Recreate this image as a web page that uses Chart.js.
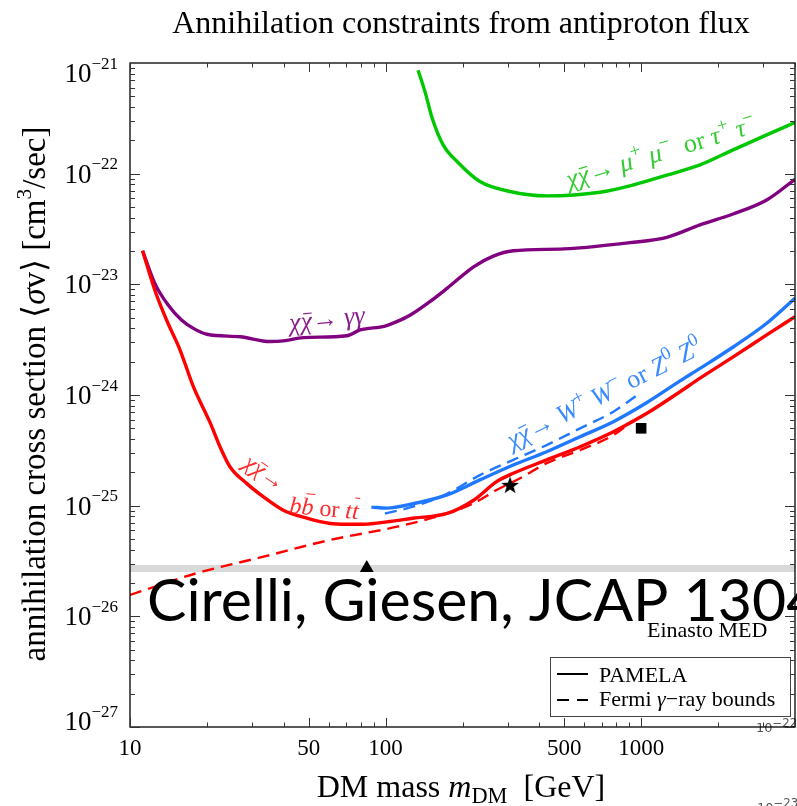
<!DOCTYPE html>
<html>
<head>
<meta charset="utf-8">
<title>Annihilation constraints from antiproton flux</title>
<script src="https://cdn.jsdelivr.net/npm/chart.js@4.4.1/dist/chart.umd.min.js"></script>
<style>
  html, body { margin: 0; padding: 0; background: #fff; }
  canvas { display: block; }
</style>
</head>
<body>
<canvas id="bounds" width="797" height="806"></canvas>
<script>
// DM mass in GeV, <sigma v> in cm^3/s

// chi chibar -> b bbar / t tbar, PAMELA
const massHad = [11.2, 12.5, 13.9, 15.7, 17.7, 20.6, 22.5, 24.6, 28.6, 33.3, 39.8, 49.2, 60.7, 70.5, 81.9, 104, 128, 174, 221, 272, 316, 427, 577, 779, 1050, 1420, 1700, 2300, 3100, 4000];
const sigmaHad = [2.01e-23, 8.9e-24, 4.76e-24, 2.55e-24, 1.19e-24, 5.6e-25, 3.41e-25, 2.25e-25, 1.59e-25, 1.2e-25, 9.1e-26, 7.7e-26, 6.9e-26, 6.8e-26, 6.8e-26, 7.2e-26, 7.7e-26, 8.5e-26, 1.12e-25, 1.65e-25, 1.96e-25, 2.59e-25, 3.41e-25, 4.66e-25, 6.8e-25, 1.07e-24, 1.42e-24, 2.22e-24, 3.49e-24, 5.1e-24];
// same channel, Fermi gamma-ray bound
const massHadFermi = [10, 18.2, 33.3, 60.7, 111, 174, 221, 272, 336, 427, 577, 779, 930];
const sigmaHadFermi = [1.56e-26, 2.45e-26, 3.46e-26, 4.9e-26, 6.46e-26, 8.5e-26, 1.05e-25, 1.385e-25, 1.77e-25, 2.42e-25, 3.18e-25, 4.35e-25, 5.9e-25];

// chi chibar -> W+W- / Z0Z0
const massW = [88, 101, 128, 174, 234, 316, 427, 577, 779, 1050, 1420, 1700, 2300, 3100, 4000];
const sigmaW = [9.7e-26, 9.5e-26, 1.04e-25, 1.25e-25, 1.71e-25, 2.33e-25, 3.07e-25, 4.2e-25, 5.74e-25, 8.5e-25, 1.34e-24, 1.74e-24, 2.73e-24, 4.45e-24, 7.5e-24];
const massWFermi = [99.5, 128, 174, 234, 316, 427, 577, 779, 990];
const sigmaWFermi = [8.5e-26, 9.8e-26, 1.28e-25, 1.89e-25, 2.59e-25, 3.53e-25, 5.0e-25, 7.07e-25, 1.04e-24];

// chi chibar -> gamma gamma
const massGam = [11.2, 12.5, 14.1, 15.9, 17.7, 20, 27, 35.3, 39.8, 47.7, 70.5, 79.5, 99.5, 110.6, 125, 149, 174, 221, 264, 316, 497, 906, 1260, 1700, 2290, 3100, 4000];
const sigmaGam = [2.01e-23, 1.02e-23, 6.5e-24, 4.76e-24, 4.0e-24, 3.54e-24, 3.36e-24, 3.04e-24, 3.08e-24, 3.3e-24, 3.43e-24, 3.87e-24, 4.2e-24, 4.6e-24, 5.28e-24, 6.97e-24, 9.2e-24, 1.44e-23, 1.8e-23, 2.01e-23, 2.09e-23, 2.38e-23, 2.66e-23, 3.44e-23, 4.32e-23, 5.78e-23, 8.9e-23];

// chi chibar -> mu+mu- / tau+tau-
const massLep = [134, 143, 152, 168, 193, 234, 307, 427, 691, 930, 1260, 1700, 2290, 3100, 4000];
const sigmaLep = [8.6e-22, 5.4e-22, 3.2e-22, 1.82e-22, 1.25e-22, 8.5e-23, 6.9e-23, 6.3e-23, 6.8e-23, 7.9e-23, 9.7e-23, 1.2e-22, 1.64e-22, 2.24e-22, 2.9e-22];

// thermal relic band
const relicMass = [10, 4000];
const relicSigma = [2.7e-26, 2.7e-26];

// benchmark points
const triangleAt = { x: 84.4, y: 2.73e-26 };
const starAt = { x: 307, y: 1.54e-25 };
const squareAt = { x: 1000, y: 5e-25 };

const xTickLabels = [10, 50, 100, 500, 1000];
const yExponents = [-21, -22, -23, -24, -25, -26, -27];

const SERIF = '"Liberation Serif", "Times New Roman", serif';

const RED = '#ff0000', BLUE = '#1f78ff', GREEN = '#00c800', PURPLE = '#800080';

function pts(xs, ys) { return xs.map((m, i) => ({ x: m, y: ys[i] })); }

function curve(label, xs, ys, color, dashed) {
  return {
    label, data: pts(xs, ys),
    borderColor: color, borderWidth: dashed ? 2.4 : 3.4,
    borderDash: dashed ? [12, 7] : [],
    pointRadius: 0, fill: false, cubicInterpolationMode: 'monotone'
  };
}

function marker(label, at, style, r) {
  return {
    label, data: [at], showLine: false,
    pointStyle: style, pointRadius: r,
    pointBackgroundColor: '#000', pointBorderColor: '#000', pointBorderWidth: 0
  };
}

// filled five-point star
const starImg = document.createElement('canvas');
starImg.width = starImg.height = 20;
(function () {
  const c = starImg.getContext('2d');
  c.beginPath();
  for (let i = 0; i < 10; i++) {
    const r = i % 2 ? 3.7 : 9.3;
    const a = -Math.PI / 2 + i * Math.PI / 5;
    c.lineTo(10 + r * Math.cos(a), 10.8 + r * Math.sin(a));
  }
  c.closePath();
  c.fillStyle = '#000';
  c.fill();
})();

// text runs: [string, flags]  i = italic, ^ = superscript, _ = subscript, - = overbar
function drawRich(ctx, parts, x, y, size, align, o) {
  o = Object.assign({ family: SERIF, small: 0.65, raise: 0.42, drop: 0.22 }, o || {});
  const runs = parts.map(p => {
    const [t, f] = Array.isArray(p) ? [p[0], p[1] || ''] : [p, ''];
    const sm = f.includes('^') || f.includes('_');
    const s = sm ? size * o.small : size;
    const font = (f.includes('i') ? 'italic ' : '') + s.toFixed(1) + 'px ' + o.family;
    ctx.font = font;
    return { t, f, font, w: ctx.measureText(t).width };
  });
  const total = runs.reduce((a, r) => a + r.w, 0);
  let cx = align === 'center' ? x - total / 2 : align === 'right' ? x - total : x;
  ctx.textAlign = 'left';
  ctx.textBaseline = 'alphabetic';
  for (const r of runs) {
    ctx.font = r.font;
    const dy = r.f.includes('^') ? -size * o.raise : r.f.includes('_') ? size * o.drop : 0;
    ctx.fillText(r.t, cx, y + dy);
    if (r.f.includes('-')) {
      const tall = /[bdhklt]/.test(r.t);
      const by = y - size * (tall ? 0.86 : 0.6);
      ctx.save();
      ctx.strokeStyle = ctx.fillStyle;
      ctx.lineWidth = Math.max(1, size * 0.045);
      ctx.beginPath();
      ctx.moveTo(cx + r.w * 0.3, by);
      ctx.lineTo(cx + r.w * 1.05, by);
      ctx.stroke();
      ctx.restore();
    }
    cx += r.w;
  }
  return total;
}

function rotated(ctx, x, y, deg, fn) {
  ctx.save();
  ctx.translate(x, y);
  ctx.rotate(deg * Math.PI / 180);
  fn();
  ctx.restore();
}

const decorations = {
  id: 'decorations',
  afterDraw(chart) {
    const { ctx, chartArea: a, scales: { x, y } } = chart;
    ctx.save();

    // small leftover labels at the lower right
    ctx.fillStyle = '#555';
    drawRich(ctx, ['10', ['\u221222', '^']], 756, 732, 13, 'left', { family: '"DejaVu Sans", sans-serif', small: 0.9, raise: 0.35 });
    drawRich(ctx, ['10', ['\u221223', '^']], 757, 812, 13, 'left', { family: '"DejaVu Sans", sans-serif', small: 0.9, raise: 0.35 });

    // frame and inward ticks
    ctx.strokeStyle = '#000';
    ctx.lineWidth = 1.3;
    ctx.strokeRect(a.left, a.top, a.right - a.left, a.bottom - a.top);
    ctx.lineWidth = 1;
    ctx.strokeStyle = '#333';
    const seg = (x0, y0, x1, y1) => { ctx.beginPath(); ctx.moveTo(x0, y0); ctx.lineTo(x1, y1); ctx.stroke(); };
    for (let d = 1; d <= 3; d++) {
      for (let m = 1; m < 10; m++) {
        const v = m * Math.pow(10, d);
        if (v > 4000) break;
        const len = xTickLabels.includes(v) ? 9 : 4.5;
        const px = Math.round(x.getPixelForValue(v)) + 0.5;
        seg(px, a.bottom, px, a.bottom - len);
        seg(px, a.top, px, a.top + len);
      }
    }
    for (let e = -27; e < -21; e++) {
      for (let m = 1; m < 10; m++) {
        const v = m * Math.pow(10, e);
        const len = m === 1 ? 10 : 5;
        const py = Math.round(y.getPixelForValue(v)) + 0.5;
        seg(a.left, py, a.left + len, py);
        seg(a.right, py, a.right - len, py);
      }
    }

    // tick labels
    ctx.fillStyle = '#000';
    yExponents.forEach(e => {
      const py = y.getPixelForValue(Math.pow(10, e));
      const off = e === -21 ? 19 : e === -27 ? 3 : 9;
      drawRich(ctx, ['10', ['\u2212' + Math.abs(e), '^']], 118, py + off, 27, 'right', { small: 0.63, raise: 0.5 });
    });
    ctx.font = '23px ' + SERIF;
    ctx.textAlign = 'center';
    xTickLabels.forEach(v => ctx.fillText(String(v), x.getPixelForValue(v), 755));

    // titles
    ctx.font = '32px ' + SERIF;
    ctx.textAlign = 'center';
    ctx.fillText('Annihilation constraints from antiproton flux', 461, 33);
    drawRich(ctx, ['DM mass ', ['m', 'i'], ['DM', '_'], '  [GeV]'], 461, 797, 32, 'center', { small: 0.7, drop: 0.2 });
    rotated(ctx, 45, 394, -90, () => {
      drawRich(ctx, ['annihilation cross section \u27E8', ['\u03C3', 'i'], 'v\u27E9 [cm', ['3', '^'], '/sec]'], 0, 0, 33, 'center', { small: 0.65, raise: 0.42 });
    });

    // channel labels
    ctx.fillStyle = '#33cc33';
    rotated(ctx, 569, 188, -16.5, () => drawRich(ctx, [
      ['\u03C7', 'i'], ['\u03C7', 'i-'], '\u2192 ', ['\u03BC', 'i'], ['+', '^'], [' \u03BC', 'i'], ['\u2212', '^'],
      '  or ', ['\u03C4', 'i'], ['+', '^'], [' \u03C4', 'i'], ['\u2212', '^']
    ], 0, 0, 26, 'left', { small: 0.72 }));
    ctx.fillStyle = '#8a1f8a';
    rotated(ctx, 290, 331, -6, () => drawRich(ctx, [
      ['\u03C7', 'i'], ['\u03C7', 'i-'], '\u2192 ', ['\u03B3\u03B3', 'i']
    ], 0, 0, 26));
    ctx.fillStyle = '#3a8bff';
    rotated(ctx, 512, 449, -26.6, () => drawRich(ctx, [
      ['\u03C7', 'i'], ['\u03C7', 'i-'], '\u2192 ', ['W', 'i'], ['+', '^'], [' W', 'i'], ['\u2212', '^'],
      ' or ', ['Z', 'i'], ['0', '^'], [' Z', 'i'], ['0', '^']
    ], 0, 0, 26, 'left', { small: 0.72 }));
    ctx.fillStyle = '#ff2a2a';
    rotated(ctx, 242, 466, 35, () => drawRich(ctx, [
      ['\u03C7', 'i'], ['\u03C7', 'i-'], '\u2192'
    ], 0, 0, 24));
    rotated(ctx, 289, 513, 5, () => drawRich(ctx, [
      ['b', 'i'], ['b', 'i-'], ' or ', ['t', 'i'], ['t', 'i-']
    ], 0, 0, 24));

    // halo profile tag
    ctx.fillStyle = '#000';
    ctx.font = '22px ' + SERIF;
    ctx.textAlign = 'left';
    ctx.fillText('Einasto MED', 647, 637);

    // legend
    ctx.fillStyle = '#fff';
    ctx.fillRect(550, 657, 240, 60);
    ctx.strokeStyle = '#444';
    ctx.lineWidth = 1;
    ctx.strokeRect(550.5, 657.5, 240, 59);
    ctx.strokeStyle = '#000';
    ctx.lineWidth = 2;
    seg(557, 674, 588, 674);
    seg(557, 700, 569, 700);
    seg(577, 700, 588, 700);
    ctx.fillStyle = '#000';
    drawRich(ctx, ['PAMELA'], 599, 682, 22);
    drawRich(ctx, ['Fermi ', ['\u03B3', 'i'], '\u2212ray bounds'], 599, 706, 22);

    // citation overlay
    ctx.font = '59px Lato, "Open Sans", sans-serif';
    ctx.textAlign = 'left';
    ctx.fillText('Cirelli, Giesen, JCAP 1304', 147, 621);

    ctx.restore();
  }
};

new Chart(document.getElementById('bounds'), {
  type: 'line',
  data: {
    datasets: [
      marker('triangle', triangleAt, 'triangle', 8),
      marker('star', starAt, starImg, 9),
      marker('square', squareAt, 'rect', 7.5),
      curve('WW PAMELA', massW, sigmaW, BLUE, false),
      curve('WW Fermi', massWFermi, sigmaWFermi, BLUE, true),
      curve('bb PAMELA', massHad, sigmaHad, RED, false),
      curve('bb Fermi', massHadFermi, sigmaHadFermi, RED, true),
      curve('gamma gamma', massGam, sigmaGam, PURPLE, false),
      curve('mu mu / tau tau', massLep, sigmaLep, GREEN, false),
      {
        label: 'relic', data: pts(relicMass, relicSigma),
        borderColor: '#d9d9d9', borderWidth: 7, pointRadius: 0, fill: false
      }
    ]
  },
  options: {
    responsive: false,
    animation: false,
    events: [],
    layout: { autoPadding: false, padding: { left: 130, top: 63, right: 2, bottom: 79 } },
    plugins: { legend: { display: false }, tooltip: { enabled: false } },
    scales: {
      x: { type: 'logarithmic', min: 10, max: 4000, display: false },
      y: { type: 'logarithmic', min: 1e-27, max: 1e-21, display: false }
    }
  },
  plugins: [decorations]
});
</script>
</body>
</html>
